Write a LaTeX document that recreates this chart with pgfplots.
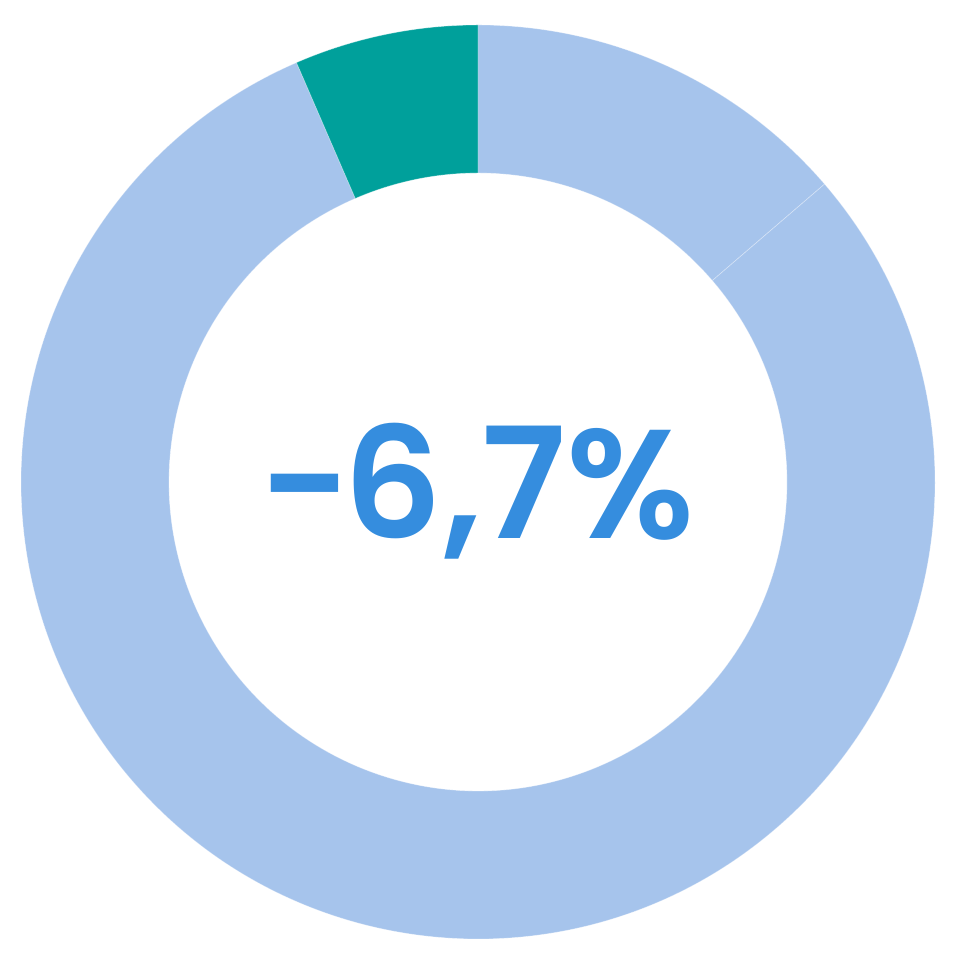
\documentclass[border=0pt]{standalone}
\usepackage{pgfplots}
\usepackage{pgfplotstable}
\pgfplotsset{compat=1.18}
\usepackage{fontspec}
\setmainfont{Poppins}
\newfontfamily\labelfont{Poppins SemiBold}

\definecolor{segA}{HTML}{A6C4EC}
\definecolor{segB}{HTML}{A6C4EC}
\definecolor{segC}{HTML}{00A09B}
\definecolor{labelblue}{HTML}{358DDE}

% shares in percent, clockwise from 12 o'clock
\pgfplotstableread{
share colour
13.7 segA
79.8 segB
6.5 segC
}\donutdata

\begin{document}
\begin{tikzpicture}
\begin{axis}[
    x=1cm, y=1cm,
    xmin=-4.78, xmax=4.80,
    ymin=-4.76, ymax=4.82,
    hide axis,
    scale only axis,
    clip=false,
]
% keep the whole plot area in the picture
\path (axis cs:-4.78,-4.76) rectangle (axis cs:4.80,4.82);
\pgfplotsextra{
  \def\Rout{4.57}
  \def\Rin{3.09}
  \xdef\angnow{90}
  \pgfplotstablegetrowsof{\donutdata}
  \pgfmathtruncatemacro\lastrow{\pgfplotsretval-1}
  \foreach \i in {0,...,\lastrow}{
    \pgfplotstablegetelem{\i}{share}\of\donutdata
    \pgfmathsetmacro\angend{\angnow-3.6*\pgfplotsretval}
    \pgfplotstablegetelem{\i}{colour}\of\donutdata
    \edef\segcol{\pgfplotsretval}
    % overlay: arc control points must not widen the picture
    \fill[overlay, \segcol, draw=white, draw opacity=0.35, line width=0.2pt]
      (axis cs:{\Rout*cos(\angnow)},{\Rout*sin(\angnow)})
      arc[start angle=\angnow, end angle=\angend, radius=\Rout]
      -- (axis cs:{\Rin*cos(\angend)},{\Rin*sin(\angend)})
      arc[start angle=\angend, end angle=\angnow, radius=\Rin]
      -- cycle;
    \xdef\angnow{\angend}
  }
}
\node[text=labelblue, font=\fontsize{44}{44}\labelfont, anchor=base, inner sep=0pt]
  at (axis cs:0.0,-0.57) {\scalebox{0.8}[1]{–}\kern-1.5pt6,7\%};
\end{axis}
\end{tikzpicture}
\end{document}
